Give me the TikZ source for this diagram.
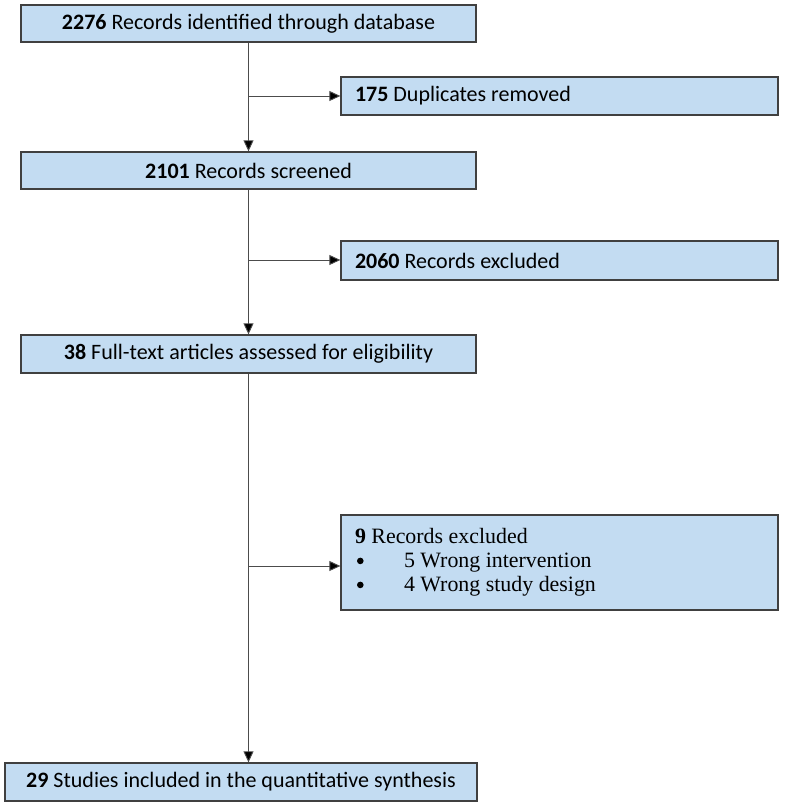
\documentclass[tikz,border=0pt]{standalone}
\usepackage{fontspec}
\setmainfont{Carlito}
\newfontfamily\timesf{Liberation Serif}
\usetikzlibrary{arrows.meta}
\definecolor{boxfill}{HTML}{C3DCF2}
\definecolor{boxline}{HTML}{404040}
\newcommand{\bigbul}{\makebox[49pt][l]{\hspace{2pt}\tikz[baseline=0pt]\fill (3.3pt,6.8pt) circle (3.3pt);}}
\newcommand{\natsp}{\spaceskip=0pt\xspaceskip=0pt\relax}
\tikzset{
  box/.style={draw=boxline, line width=1.3pt, fill=boxfill, rectangle, inner sep=0pt,
    font=\fontsize{22}{24}\selectfont, align=center},
  sidebox/.style={box, align=left, inner xsep=14pt},
  conn/.style={draw=black!70, line width=0.9pt},
  arr/.style={conn, -{Triangle[length=11pt,width=10pt,fill=black]}}
}
\begin{document}
\begin{tikzpicture}[x=1pt,y=1pt]
\useasboundingbox (0,0) rectangle (785,807);
\node[box, minimum width=455pt, minimum height=37pt] (b1) at (248.5,783.5) {\textbf{2276} Records identified through database};
\node[sidebox, text width=409pt, minimum height=38pt] (b2) at (559.5,711) {\natsp\textbf{175} Duplicates removed};
\node[box, minimum width=455pt, minimum height=37pt] (b3) at (248.5,636.5) {\textbf{2101} Records screened};
\node[sidebox, text width=409pt, minimum height=39pt] (b4) at (559.5,546.5) {\natsp\textbf{2060} Records excluded};
\node[box, minimum width=455pt, minimum height=38pt] (b5) at (248.5,453) {\textbf{38} Full-text articles assessed for eligibility};
\node[sidebox, text width=409pt, minimum height=95pt, font=\fontsize{21.9}{24}\selectfont] (b6) at (559.5,244.5) {\timesf\natsp\textbf{9} Records excluded\\
\timesf\natsp\bigbul 5 Wrong intervention\\
\timesf\natsp\bigbul 4 Wrong study design};
\node[box, minimum width=472pt, minimum height=38pt] (b7) at (241,25) {\textbf{29} Studies included in the quantitative synthesis};
% connectors
\coordinate (j2) at (b1.south |- b2.west);
\coordinate (j4) at (b3.south |- 0,547);
\coordinate (j6) at (b5.south |- 0,241);
\coordinate (e7) at (b5.south |- b7.north);
\draw[arr] (b1.south) -- (b3.north);
\draw[arr] (j2) -- (b2.west);
\draw[arr] (b3.south) -- (b5.north);
\draw[arr] (j4) -- (j4 -| b4.west);
\draw[arr] (b5.south) -- (e7);
\draw[arr] (j6) -- (j6 -| b6.west);
\end{tikzpicture}
\end{document}
